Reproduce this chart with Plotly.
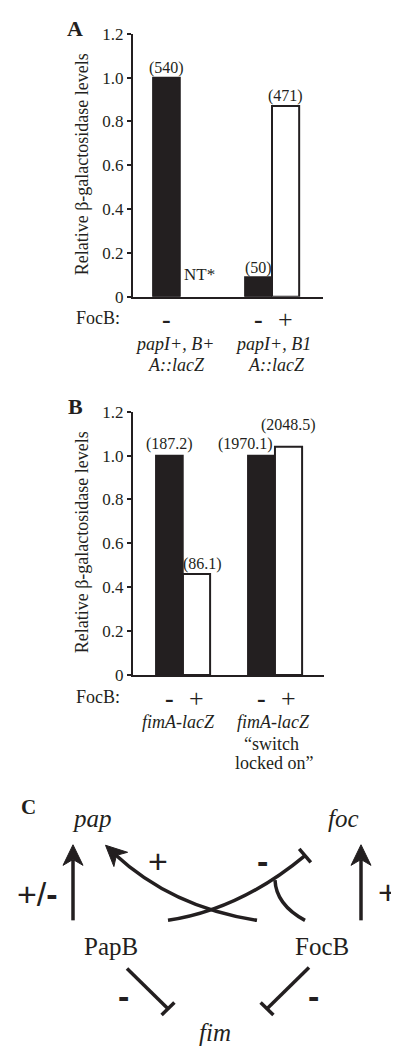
import math
import plotly.graph_objects as go

# ------------------------------------------------------------------ data
y_tickvals = [0, 0.2, 0.4, 0.6, 0.8, 1.0, 1.2]
y_ticktext = ["0", "0.2", "0.4", "0.6", "0.8", "1.0", "1.2"]

# Panel A  (relative beta-galactosidase levels, FocB - / FocB +)
a_groups = ["papI+, B+ A::lacZ", "papI+, B1 A::lacZ"]
a_focb_minus = [1.0, 0.09]
a_focb_plus = [None, 0.87]          # None = not tested (NT*)
a_minus_units = ["540", "50"]
a_plus_units = [None, "471"]
a_group_lines = [["papI+, B+", "A::lacZ"], ["papI+, B1", "A::lacZ"]]

# Panel B
b_groups = ["fimA-lacZ", "fimA-lacZ switch locked on"]
b_focb_minus = [1.0, 1.0]
b_focb_plus = [0.46, 1.04]
b_minus_units = ["187.2", "1970.1"]
b_plus_units = ["86.1", "2048.5"]
b_group_lines = [["fimA-lacZ"], ["fimA-lacZ", "\u201cswitch", "locked on\u201d"]]

y_title = "Relative \u03b2-galactosidase levels"

# ------------------------------------------------------------------ style
PAGE_W, PAGE_H = 399, 1058
OFF = 8                      # default page body margin
W, H = PAGE_W - OFF, PAGE_H - OFF
INK = "#231f20"
SERIF = "Liberation Serif, Times New Roman, serif"
SANS = "Liberation Sans, Arial, sans-serif"
HALF = 0.1475  # half bar width offset within a group (bargap 0.41)


def px(v):
    return (v - OFF) / W


def py(v):
    return 1 - (v - OFF) / H


def ann(x, y, s, size, family=SERIF, xref="x3", yref="y3", **kw):
    d = dict(x=x, y=y, xref=xref, yref=yref, text=s, showarrow=False,
             font=dict(family=family, size=size, color=INK),
             xanchor="center", yanchor="middle")
    d.update(kw)
    return d


fig = go.Figure()

panels = [
    dict(xa="x", ya="y", groups=a_groups, minus=a_focb_minus, plus=a_focb_plus,
         mu=a_minus_units, pu=a_plus_units, lines=a_group_lines),
    dict(xa="x2", ya="y2", groups=b_groups, minus=b_focb_minus, plus=b_focb_plus,
         mu=b_minus_units, pu=b_plus_units, lines=b_group_lines),
]

for p in panels:
    fig.add_trace(go.Bar(x=p["groups"], y=p["minus"], xaxis=p["xa"], yaxis=p["ya"],
                         marker=dict(color=INK, line=dict(color=INK, width=1.5)),
                         offsetgroup="minus", showlegend=False, hoverinfo="skip"))
    fig.add_trace(go.Bar(x=p["groups"], y=p["plus"], xaxis=p["xa"], yaxis=p["ya"],
                         marker=dict(color="white", line=dict(color=INK, width=2)),
                         offsetgroup="plus", showlegend=False, hoverinfo="skip"))

# invisible trace for the full-page drawing axes
fig.add_trace(go.Scatter(x=[], y=[], xaxis="x3", yaxis="y3", showlegend=False))

annotations = []
shapes = []

# ---------------- bar labels
label_shift_A = dict(minus=[(0, 10), (0, 9)], plus=[(0, 0), (0, 10)])
label_shift_B = dict(minus=[(0, 12), (-16, 12)], plus=[(6, 10), (0, 22)])
sign_row_y = [316, 702]
focb_x = 98
group_line_y = [[341, 362], [726, 748, 768]]
group_line_dx = [[[-6, -4], [1, 4]], [[-4], [-1, -3, -1]]]

for k, (p, sh) in enumerate(zip(panels, [label_shift_A, label_shift_B])):
    for i in range(len(p["groups"])):
        for side, vals, units, off, sgn in (("minus", p["minus"], p["mu"], -HALF, "<b>-</b>"),
                                             ("plus", p["plus"], p["pu"], HALF, "+")):
            v = vals[i]
            xs, ys = sh[side][i]
            if v is None:
                annotations.append(ann(i + off, 270, "NT*", 17, xref=p["xa"], xshift=6))
                continue
            annotations.append(ann(i + off, v, "(" + units[i] + ")", 16,
                                   xref=p["xa"], yref=p["ya"], xshift=xs, yshift=ys))
            annotations.append(ann(i + off, sign_row_y[k], sgn, 26, xref=p["xa"]))
        for j, line in enumerate(p["lines"][i]):
            italic = not (k == 1 and j > 0)
            s = "<i>" + line + "</i>" if italic else line
            annotations.append(ann(i, group_line_y[k][j], s, 18, xref=p["xa"],
                                   xshift=group_line_dx[k][i][j]))
    annotations.append(ann(focb_x, sign_row_y[k] - 1, "FocB:", 18))

# y titles and panel letters
annotations.append(ann(82, 158, y_title, 18, textangle=-90))
annotations.append(ann(82, 543, y_title, 18, textangle=-90))
annotations.append(ann(75, 20, "<b>A</b>", 22))
annotations.append(ann(75, 405, "<b>B</b>", 22))
annotations.append(ann(28, 813, "<b>C</b>", 21))

# ---------------- panel C diagram
annotations += [
    ann(92, 824, "<i>pap</i>", 25),
    ann(343, 824, "<i>foc</i>", 25),
    ann(111, 955, "PapB", 25),
    ann(322, 955, "FocB", 25),
    ann(215, 1042, "<i>fim</i>", 25),
    ann(37, 901, "+/<b>-</b>", 34, family=SANS),
    ann(388, 899, "+", 34, family=SANS),
    ann(158, 868, "+", 34, family=SANS),
    ann(262, 868, "<b>-</b>", 34, family=SANS),
    ann(123, 1005, "<b>-</b>", 34, family=SANS),
    ann(313, 1005, "<b>-</b>", 34, family=SANS),
]

LW = 3.5


def stroke(d):
    shapes.append(dict(type="path", path=d, xref="x3", yref="y3",
                       line=dict(color=INK, width=LW), fillcolor="rgba(0,0,0,0)"))


def head(tx, ty, dx, dy, L=21, w=10, notch=6):
    n = math.hypot(dx, dy)
    dx, dy = dx / n, dy / n
    nx, ny = -dy, dx
    bx, by = tx - L * dx, ty - L * dy
    c1 = (bx + w * nx, by + w * ny)
    c2 = (bx - w * nx, by - w * ny)
    m = (tx - (L - notch) * dx, ty - (L - notch) * dy)
    d = "M %.1f %.1f L %.1f %.1f L %.1f %.1f L %.1f %.1f Z" % (tx, ty, c1[0], c1[1], m[0], m[1], c2[0], c2[1])
    shapes.append(dict(type="path", path=d, xref="x3", yref="y3",
                       line=dict(color=INK, width=1), fillcolor=INK))


def tbar(x, y, dx, dy, half=9):
    n = math.hypot(dx, dy)
    nx, ny = -dy / n, dx / n
    stroke("M %.1f %.1f L %.1f %.1f" % (x + half * nx, y + half * ny, x - half * nx, y - half * ny))


# vertical activation arrows
stroke("M 73 928 L 73 866")
head(73, 851, 0, -1)
stroke("M 361 928 L 361 866")
head(361, 851, 0, -1)
# FocB -> pap curved activation
stroke("M 257 928 Q 172 915 114 860")
head(105.5, 851.5, -58, -55)
# PapB -| foc curved inhibition with FocB branch
stroke("M 168 928 Q 240 917 305 862")
tbar(305, 862, 65, -55)
stroke("M 305 928 Q 276 912 275 887")
# PapB -| fim, FocB -| fim
stroke("M 127 977 L 168 1018")
tbar(168, 1018, 41, 41)
stroke("M 309 976 L 267 1018")
tbar(267, 1018, -42, 42)

axis_common = dict(showgrid=False, zeroline=False, showline=True, linecolor=INK, linewidth=2)
yaxis_common = dict(axis_common, range=[0, 1.2], tickvals=y_tickvals, ticktext=y_ticktext,
                    ticks="outside", ticklen=4, tickwidth=2, tickcolor=INK,
                    tickfont=dict(family=SERIF, size=17, color=INK), fixedrange=True)
xaxis_common = dict(axis_common, type="category", showticklabels=False, ticks="", fixedrange=True)

fig.update_layout(
    width=W, height=H, autosize=False,
    margin=dict(l=0, r=0, t=0, b=0),
    paper_bgcolor="white", plot_bgcolor="rgba(0,0,0,0)",
    barmode="group", bargap=0.41, bargroupgap=0,
    showlegend=False,
    xaxis=dict(xaxis_common, domain=[px(133), px(323)], range=[-0.511, 1.554], anchor="y"),
    yaxis=dict(yaxis_common, domain=[py(293), py(25)], anchor="x"),
    xaxis2=dict(xaxis_common, domain=[px(133), px(324)], range=[-0.543, 1.533], anchor="y2"),
    yaxis2=dict(yaxis_common, domain=[py(678), py(410)], anchor="x2"),
    xaxis3=dict(domain=[0, 1], range=[OFF, PAGE_W], visible=False, fixedrange=True, anchor="y3"),
    yaxis3=dict(domain=[0, 1], range=[PAGE_H, OFF], visible=False, fixedrange=True, anchor="x3"),
    annotations=annotations,
    shapes=shapes,
)

fig.write_html("out.html")
